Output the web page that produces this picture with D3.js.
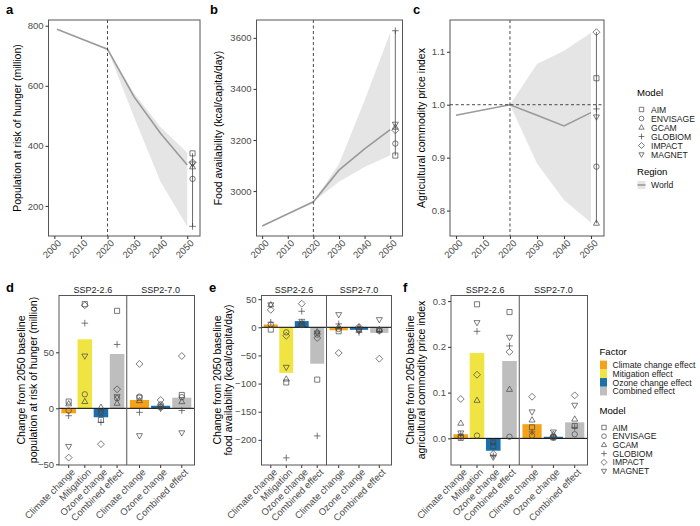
<!DOCTYPE html>
<html>
<head>
<meta charset="utf-8">
<script src="https://cdn.jsdelivr.net/npm/d3@7"></script>
<style>
  body { margin: 0; background: #fff; }
  svg { font-family: "Liberation Sans", Arial, sans-serif; }
</style>
</head>
<body>
<script>
// ---- data ----
var models = ['AIM', 'ENVISAGE', 'GCAM', 'GLOBIOM', 'IMPACT', 'MAGNET'];
var shapes = ['square', 'circle', 'triUp', 'plus', 'diamond', 'triDown'];

// top row: world trajectories
var hungerYears = [2001, 2020, 2030, 2040, 2050];
var hungerLine = [788, 722, 563, 441, 336];
var foodYears = [2000, 2020, 2030, 2040, 2050];
var foodLine = [2863, 2958, 3082, 3165, 3241];
var priceYears = [2000, 2020, 2030, 2040, 2050];
var priceLine = [0.980, 1.0, 0.980, 0.960, 0.985];

var rangeYears = [2020, 2030, 2040, 2050];
var hungerLow = [722, 495, 280, 132];
var hungerHigh = [722, 575, 462, 377];
var foodLow = [2958, 3036, 3094, 3140];
var foodHigh = [2958, 3106, 3355, 3620];
var priceLow = [1.0, 0.889, 0.820, 0.777];
var priceHigh = [1.0, 1.077, 1.102, 1.136];

// model values in 2050 (same order as models)
var hunger2050 = [375, 290, 330, 132, 345, 340];
var food2050 = [3139, 3186, 3250, 3628, 3238, 3262];
var price2050 = [1.05, 0.883, 0.776, 0.992, 1.137, 0.977];

var xTicks = [2000, 2010, 2020, 2030, 2040, 2050];
var hungerTicks = [200, 400, 600, 800];
var foodTicks = [3000, 3200, 3400, 3600];
var priceTicks = [0.8, 0.9, 1.0, 1.1];

// bottom row: change from 2050 baseline
var scenarios = ['SSP2-2.6', 'SSP2-7.0'];
var factors26 = ['Climate change', 'Mitigation', 'Ozone change', 'Combined effect'];
var factors70 = ['Climate change', 'Ozone change', 'Combined effect'];
var factorNames = ['Climate change effect', 'Mitigation effect', 'Ozone change effect', 'Combined effect'];
var factorColors = ['#F4A21A', '#F0E442', '#1B70AC', '#BEBEBE'];

var hungerBar26 = [-4.5, 61.6, -8, 48.5];
var hungerBar70 = [7.4, 2.3, 9.5];
var foodBar26 = [5, -81, 11, -64.7];
var foodBar70 = [-5.3, -4.5, -10];
var priceBar26 = [0.009, 0.1865, -0.027, 0.169];
var priceBar70 = [0.031, 0.0035, 0.035];

// rows = models, columns = factors
var hungerPts26 = [
  [6, 93, -10.4, 87],
  [-2, 12.5, -4.5, 9],
  [4, 6, 0.9, 4.5],
  [-6.6, 76, -12.5, 57],
  [-44, 92, -32, 17],
  [-34, 46.7, -3, 10.4]
];
var hungerPts70 = [
  [9.5, 1.5, 11.9],
  [10.4, 3.5, 10],
  [6.8, 2, 5.9],
  [-3.6, 0.9, -2],
  [39.6, 7.4, 46.7],
  [-24.4, 0, -21.8]
];
var foodPts26 = [
  [-4, -98, 4.8, -93],
  [4.8, -9, 4, -13],
  [40, -92, 8, -8],
  [9, -232, 28.5, -193],
  [31, -15, 42, -19],
  [40, -71, 10.7, -10]
];
var foodPts70 = [
  [-7, -4, -5],
  [-3, -3, -6],
  [1, 0, -4],
  [6, -9, -7],
  [-45.6, 0.7, -55.8],
  [22.6, -6, 13.7]
];
var pricePts26 = [
  [0.001, 0.293, -0.017, 0.276],
  [0.0035, 0.006, -0.007, 0.0035],
  [0.033, 0.083, -0.010, 0.107],
  [0.009, 0.234, -0.038, 0.202],
  [0.086, 0.139, -0.034, 0.189],
  [0.012, 0.253, -0.041, 0.221]
];
var pricePts70 = [
  [0.024, 0.002, 0.027],
  [0.006, 0.002, 0.009],
  [0.040, 0.009, 0.042],
  [0.014, 0.003, 0.024],
  [0.091, 0.0035, 0.094],
  [0.058, 0.014, 0.0725]
];

var hungerYTicks = [-50, 0, 50];
var foodYTicks = [-200, -150, -100, -50, 0, 50];
var priceYTicks = [0, 0.1, 0.2, 0.3];

// ---- drawing ----
var svg = d3.select('body').append('svg')
    .attr('width', 700)
    .attr('height', 526);

var tickCol = '#4D4D4D';
var ptCol = '#444';

function shapePath(shape, cx, cy, r) {
  var p = d3.path();
  if (shape == 'square') {
    var s = r * 0.85;
    p.rect(cx - s, cy - s, 2 * s, 2 * s);
  } else if (shape == 'circle') {
    p.moveTo(cx + r * 0.9, cy);
    p.arc(cx, cy, r * 0.9, 0, 2 * Math.PI);
  } else if (shape == 'triUp') {
    p.moveTo(cx, cy - r * 1.1);
    p.lineTo(cx + r, cy + r * 0.65);
    p.lineTo(cx - r, cy + r * 0.65);
    p.closePath();
  } else if (shape == 'triDown') {
    p.moveTo(cx, cy + r * 1.1);
    p.lineTo(cx + r, cy - r * 0.65);
    p.lineTo(cx - r, cy - r * 0.65);
    p.closePath();
  } else if (shape == 'diamond') {
    p.moveTo(cx, cy - r * 1.15);
    p.lineTo(cx + r * 1.15, cy);
    p.lineTo(cx, cy + r * 1.15);
    p.lineTo(cx - r * 1.15, cy);
    p.closePath();
  } else if (shape == 'plus') {
    p.moveTo(cx - r * 1.1, cy);
    p.lineTo(cx + r * 1.1, cy);
    p.moveTo(cx, cy - r * 1.1);
    p.lineTo(cx, cy + r * 1.1);
  }
  return p.toString();
}

function styleAxis(g) {
  g.select('.domain').remove();
  g.selectAll('.tick line').attr('stroke', '#333');
  g.selectAll('.tick text').attr('fill', tickCol).style('font-size', '9.5px');
}

function rotateLabels(g) {
  g.selectAll('.tick text')
      .attr('text-anchor', 'end')
      .attr('x', 0)
      .attr('y', 0)
      .attr('dy', '0.72em')
      .attr('transform', 'translate(2,3) rotate(-45)');
}

function yTitle(x, yc, lines) {
  var t = svg.append('text')
      .attr('transform', 'translate(' + x + ',' + yc + ') rotate(-90)')
      .attr('text-anchor', 'middle')
      .style('font-size', '10.5px')
      .attr('fill', '#000');
  lines.forEach(function(l, i) {
    t.append('tspan').attr('x', 0).attr('dy', i == 0 ? 0 : '1.12em').text(l);
  });
}

function panelLetter(x, y, s) {
  svg.append('text').attr('x', x).attr('y', y)
      .style('font-size', '13px').style('font-weight', 'bold').text(s);
}

// top panels
function topPanel(o) {
  var x = d3.scaleLinear().domain([1997.8, 2054.8]).range([o.x0, o.x1]);
  var y = d3.scaleLinear().domain(o.yDom).range([o.y1, o.y0]);
  var g = svg.append('g');

  var band = rangeYears.map(function(yr, i) { return [yr, o.low[i], o.high[i]]; });
  g.append('path')
      .attr('d', d3.area().x(function(d) { return x(d[0]); })
        .y0(function(d) { return y(d[1]); }).y1(function(d) { return y(d[2]); })(band))
      .attr('fill', '#E5E5E5');

  var line = o.years.map(function(yr, i) { return [yr, o.line[i]]; });
  g.append('path')
      .attr('d', d3.line().x(function(d) { return x(d[0]); }).y(function(d) { return y(d[1]); })(line))
      .attr('fill', 'none')
      .attr('stroke', '#9A9A9A')
      .attr('stroke-width', 1.6);

  g.append('line')
      .attr('x1', x(2020)).attr('x2', x(2020))
      .attr('y1', o.y0).attr('y2', o.y1)
      .attr('stroke', '#333').attr('stroke-width', 0.9)
      .attr('stroke-dasharray', '3,2.5');

  if (o.hline != null) {
    g.append('line')
        .attr('x1', o.x0).attr('x2', o.x1)
        .attr('y1', y(o.hline)).attr('y2', y(o.hline))
        .attr('stroke', '#333').attr('stroke-width', 0.9)
        .attr('stroke-dasharray', '3,2.5');
  }

  var px = 2052;
  g.append('line')
      .attr('x1', x(px)).attr('x2', x(px))
      .attr('y1', y(d3.min(o.pts))).attr('y2', y(d3.max(o.pts)))
      .attr('stroke', ptCol).attr('stroke-width', 0.8);
  g.selectAll('.pt').data(o.pts).enter().append('path')
      .attr('d', function(d, i) { return shapePath(shapes[i], x(px), y(d), 3); })
      .attr('fill', 'none')
      .attr('stroke', ptCol)
      .attr('stroke-width', 0.7);

  g.append('rect')
      .attr('x', o.x0).attr('y', o.y0)
      .attr('width', o.x1 - o.x0).attr('height', o.y1 - o.y0)
      .attr('fill', 'none').attr('stroke', '#555').attr('stroke-width', 1);

  g.append('g').attr('transform', 'translate(' + o.x0 + ',0)')
      .call(d3.axisLeft(y).tickValues(o.ticks).tickSize(3).tickPadding(2).tickFormat(o.fmt))
      .call(styleAxis);
  g.append('g').attr('transform', 'translate(0,' + o.y1 + ')')
      .call(d3.axisBottom(x).tickValues(xTicks).tickSize(3).tickFormat(d3.format('d')))
      .call(styleAxis)
      .call(rotateLabels);
}

topPanel({ x0: 48.5, x1: 200, y0: 20, y1: 236, yDom: [100, 819],
  years: hungerYears, line: hungerLine, low: hungerLow, high: hungerHigh,
  pts: hunger2050, ticks: hungerTicks, fmt: d3.format('d') });
topPanel({ x0: 256.5, x1: 402.5, y0: 20, y1: 236, yDom: [2824, 3670],
  years: foodYears, line: foodLine, low: foodLow, high: foodHigh,
  pts: food2050, ticks: foodTicks, fmt: d3.format('d') });
topPanel({ x0: 450, x1: 604, y0: 20, y1: 236, yDom: [0.752, 1.16],
  years: priceYears, line: priceLine, low: priceLow, high: priceHigh,
  pts: price2050, ticks: priceTicks, fmt: d3.format('.1f'), hline: 1.0 });

yTitle(21, 128, ['Population at risk of hunger (million)']);
yTitle(222, 128, ['Food availability (kcal/capita/day)']);
yTitle(425, 128, ['Agricultural commodity price index']);
panelLetter(6, 14, 'a');
panelLetter(210, 14, 'b');
panelLetter(413, 14, 'c');

// bottom panels
function bottomPanel(o) {
  var y = d3.scaleLinear().domain(o.yDom).range([o.y1, o.y0]);
  var g = svg.append('g');
  var mid = (o.x0 + o.x1) / 2;
  var facets = [
    { name: scenarios[0], cats: factors26, bars: o.bar26, pts: o.pts26, x0: o.x0, x1: mid },
    { name: scenarios[1], cats: factors70, bars: o.bar70, pts: o.pts70, x0: mid, x1: o.x1 }
  ];
  facets.forEach(function(f) {
    var x = d3.scaleBand().domain(f.cats).range([f.x0, f.x1])
        .paddingInner(0.1).paddingOuter(0.15);
    g.selectAll(null).data(f.bars).enter().append('rect')
        .attr('x', function(d, i) { return x(f.cats[i]); })
        .attr('width', x.bandwidth())
        .attr('y', function(d) { return y(Math.max(0, d)); })
        .attr('height', function(d) { return Math.abs(y(d) - y(0)); })
        .attr('fill', function(d, i) { return factorColors[factorNames.indexOf(f.cats[i] == 'Combined effect' ? 'Combined effect' : f.cats[i] + ' effect')]; });

    g.append('line')
        .attr('x1', f.x0).attr('x2', f.x1)
        .attr('y1', y(0)).attr('y2', y(0))
        .attr('stroke', '#000').attr('stroke-width', 1);

    f.pts.forEach(function(row, m) {
      g.selectAll(null).data(row).enter().append('path')
          .attr('d', function(d, i) {
            return shapePath(shapes[m], x(f.cats[i]) + x.bandwidth() / 2, y(d), 3);
          })
          .attr('fill', 'none')
          .attr('stroke', ptCol)
          .attr('stroke-width', 0.7);
    });

    g.append('text')
        .attr('x', (f.x0 + f.x1) / 2).attr('y', o.y0 - 3)
        .attr('text-anchor', 'middle')
        .style('font-size', '9px')
        .attr('fill', '#1A1A1A')
        .text(f.name);

    g.append('g').attr('transform', 'translate(0,' + o.y1 + ')')
        .call(d3.axisBottom(x).tickSize(3))
        .call(styleAxis)
        .call(rotateLabels);
  });

  g.append('rect')
      .attr('x', o.x0).attr('y', o.y0)
      .attr('width', o.x1 - o.x0).attr('height', o.y1 - o.y0)
      .attr('fill', 'none').attr('stroke', '#555').attr('stroke-width', 1);
  g.append('line')
      .attr('x1', mid).attr('x2', mid).attr('y1', o.y0).attr('y2', o.y1)
      .attr('stroke', '#555').attr('stroke-width', 1);

  g.append('g').attr('transform', 'translate(' + o.x0 + ',0)')
      .call(d3.axisLeft(y).tickValues(o.ticks).tickSize(3).tickPadding(2).tickFormat(o.fmt))
      .call(styleAxis);
}

bottomPanel({ x0: 59, x1: 194.5, y0: 295.5, y1: 465, yDom: [-50.6, 100.7],
  bar26: hungerBar26, bar70: hungerBar70, pts26: hungerPts26, pts70: hungerPts70,
  ticks: hungerYTicks, fmt: d3.format('d') });
bottomPanel({ x0: 261.5, x1: 391.5, y0: 295.5, y1: 465, yDom: [-244.7, 56.5],
  bar26: foodBar26, bar70: foodBar70, pts26: foodPts26, pts70: foodPts70,
  ticks: foodYTicks, fmt: d3.format('d') });
bottomPanel({ x0: 451, x1: 587.5, y0: 295.5, y1: 465, yDom: [-0.0582, 0.3122],
  bar26: priceBar26, bar70: priceBar70, pts26: pricePts26, pts70: pricePts70,
  ticks: priceYTicks, fmt: d3.format('.1f') });

yTitle(25, 380, ['Change from 2050 baseline', 'population at risk of hunger (million)']);
yTitle(220.5, 380, ['Change from 2050 baseline', 'food availability (kcal/capita/day)']);
yTitle(413.5, 380, ['Change from 2050 baseline', 'agricultural commodity price index']);
panelLetter(6, 292, 'd');
panelLetter(209, 292, 'e');
panelLetter(403, 292, 'f');

// legends
var legTitle = '9.6px';
var legText = '8.6px';

function modelLegend(x, y, step, symX, labX) {
  svg.append('text').attr('x', x).attr('y', y).style('font-size', legTitle).text('Model');
  models.forEach(function(m, i) {
    var cy = y + 13.5 + i * step;
    svg.append('path').attr('d', shapePath(shapes[i], symX, cy, 2.6))
        .attr('fill', 'none').attr('stroke', ptCol).attr('stroke-width', 0.7);
    svg.append('text').attr('x', labX).attr('y', cy + 3.1)
        .style('font-size', legText).attr('fill', '#1A1A1A').text(m);
  });
}

modelLegend(637, 96, 9, 641.5, 651);
svg.append('text').attr('x', 637).attr('y', 175).style('font-size', legTitle).text('Region');
svg.append('rect').attr('x', 637.5).attr('y', 181).attr('width', 8).attr('height', 8).attr('fill', '#E5E5E5');
svg.append('line').attr('x1', 637.5).attr('x2', 645.5).attr('y1', 185).attr('y2', 185)
    .attr('stroke', '#9A9A9A').attr('stroke-width', 1.6);
svg.append('text').attr('x', 651).attr('y', 188.2).style('font-size', legText).attr('fill', '#1A1A1A').text('World');

svg.append('text').attr('x', 599.5).attr('y', 354.5).style('font-size', legTitle).text('Factor');
factorNames.forEach(function(f, i) {
  var cy = 365 + i * 8.7;
  svg.append('rect').attr('x', 600).attr('y', cy - 4.35).attr('width', 7).attr('height', 8.7)
      .attr('fill', factorColors[i]);
  svg.append('text').attr('x', 612.5).attr('y', cy + 3.1)
      .style('font-size', legText).attr('fill', '#1A1A1A').text(f);
});
modelLegend(599.5, 414, 8.7, 604, 612.5);
</script>
</body>
</html>
